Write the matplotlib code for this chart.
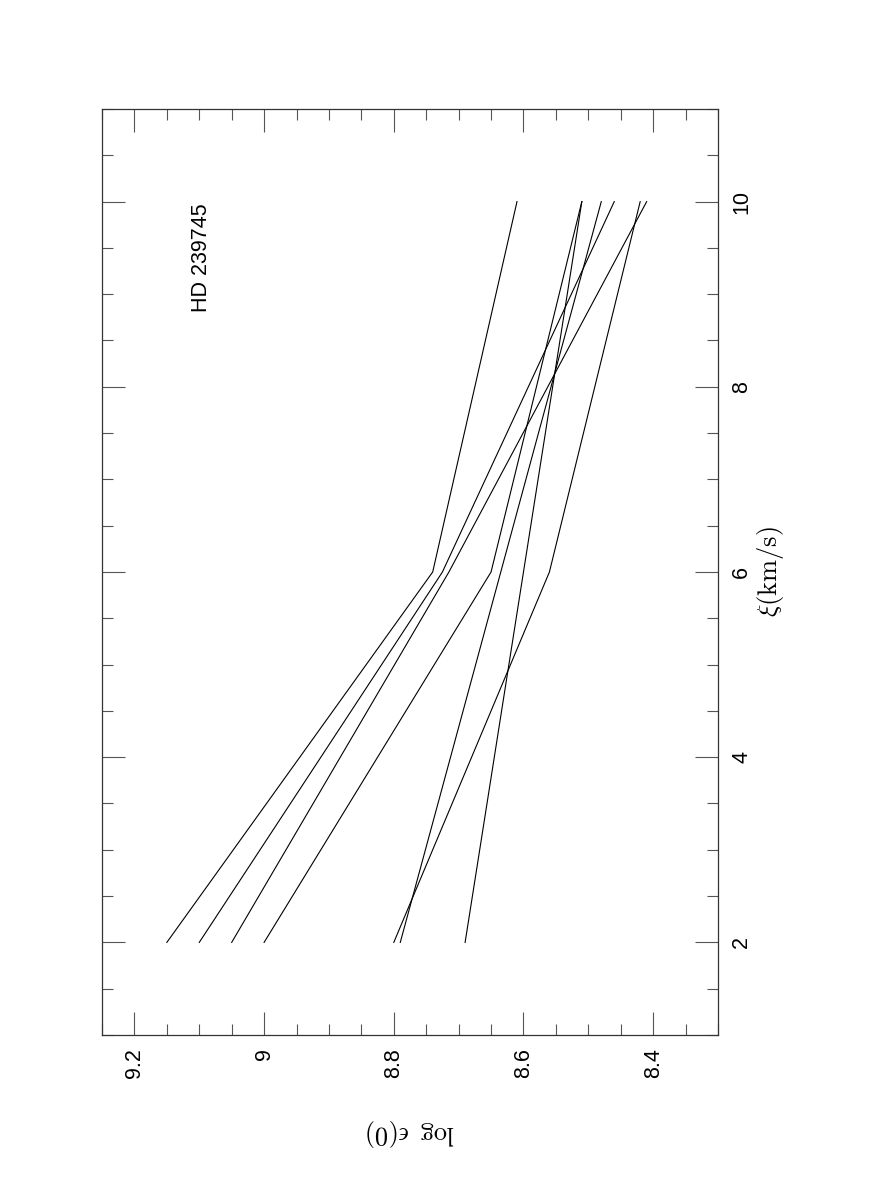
import matplotlib
matplotlib.use("Agg")
import matplotlib.pyplot as plt
from matplotlib.ticker import MultipleLocator, FuncFormatter

plt.rcParams['font.family'] = ['Liberation Sans', 'DejaVu Sans']
plt.rcParams['mathtext.fontset'] = 'cm'

# microturbulence grid (km/s)
xi = [2, 6, 10]

# log eps(O) for each curve at xi = 2, 6, 10
line_a = [9.15, 8.74, 8.61]
line_b = [9.10, 8.725, 8.46]
line_c = [9.05, 8.715, 8.41]
line_d = [9.00, 8.65, 8.51]
line_e = [8.80, 8.56, 8.42]
line_f = [8.79, 8.635, 8.48]
line_g = [8.69, 8.60, 8.51]
curves = [line_a, line_b, line_c, line_d, line_e, line_f, line_g]

star = "HD 239745"
eps_ticks = [9.2, 9.0, 8.8, 8.6, 8.4]
xi_ticks = [2, 4, 6, 8, 10]

fig = plt.figure(figsize=(8.72, 11.99), dpi=100)
ax = fig.add_axes([102 / 872, 164 / 1199, 616 / 872, 926 / 1199])

# page is rotated: abundance runs horizontally (reversed), xi runs upward
for c in curves:
    ax.plot(c, xi, color='black', lw=0.8)

ax.set_xlim(9.25, 8.3)
ax.set_ylim(1, 11)

ax.xaxis.set_major_locator(MultipleLocator(0.2))
ax.xaxis.set_minor_locator(MultipleLocator(0.05))
ax.yaxis.set_major_locator(MultipleLocator(2))
ax.yaxis.set_minor_locator(MultipleLocator(0.5))
ax.xaxis.set_major_formatter(FuncFormatter(lambda v, p: '%g' % round(v, 2)))
ax.yaxis.set_major_formatter(FuncFormatter(lambda v, p: '%g' % v))

ax.tick_params(which='both', direction='in', top=True, bottom=True,
               left=True, right=True, color='#555555', width=0.8)
ax.tick_params(which='major', length=16.5)
ax.tick_params(which='minor', length=8)
ax.tick_params(axis='x', labelsize=15.5, labelrotation=90, pad=9.5)
ax.tick_params(axis='y', labelsize=15.5, labelrotation=90, pad=9.5,
               labelleft=False, labelright=True)
for t in ax.get_yticklabels():
    t.set_verticalalignment('center')

for s in ax.spines.values():
    s.set_color('#333333')
    s.set_linewidth(0.9)

ax.set_xlabel(r'$\log\ \epsilon(0)$', fontsize=19, rotation=180)
ax.xaxis.set_label_coords(0.5, -(1117 - 1035) / 926)
ax.yaxis.set_label_position('right')
ax.set_ylabel(r'$\xi(\mathrm{km/s})$', fontsize=19, rotation=90)
ax.yaxis.label.set_verticalalignment('center')
ax.yaxis.label.set_horizontalalignment('center')
ax.yaxis.set_label_coords(1 + 52 / 616, 0.5)

ax.text(9.097, 9.39, star, rotation=90, fontsize=15.5, ha='center', va='center')

fig.savefig('out.png', dpi=100)
